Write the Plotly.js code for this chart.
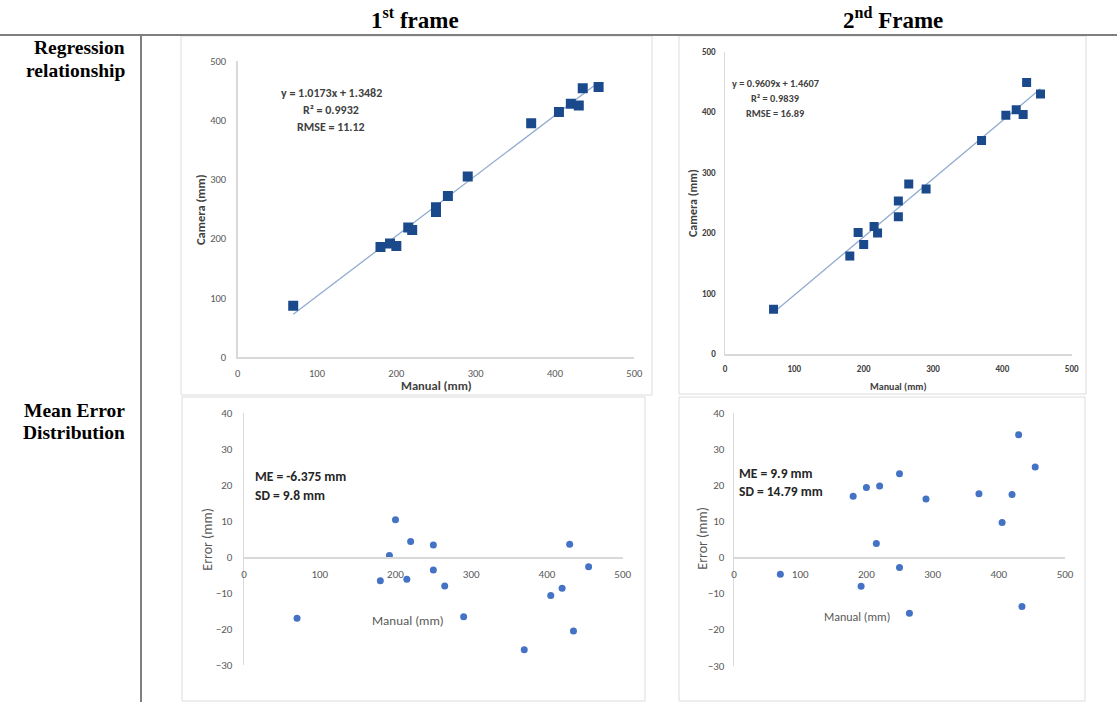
<!DOCTYPE html>
<html>
<head>
<meta charset="utf-8">
<script src="https://cdn.plot.ly/plotly-3.0.1.min.js"></script>
<style>html,body{margin:0;padding:0;background:#fff;}#chart{width:1117px;height:702px;}</style>
</head>
<body>
<div id="chart"></div>
<script>
// ---- data ----
const manual  = [70, 180, 192, 200, 215, 220, 250, 250, 265, 290, 370, 405, 420, 430, 435, 455];
const camera1 = [87, 186, 192, 188, 219, 215, 253, 245, 272, 305, 395, 414, 428, 425, 454, 456];
const camera2 = [74, 162, 201, 181, 211, 200, 253, 227, 281, 273, 353, 395, 404, 396, 449, 430];
const error1  = [-16.9, -6.5, 0.5, 10.4, -6.1, 4.4, 3.4, -3.5, -8, -16.5, -25.7, -10.6, -8.6, 3.6, -20.5, -2.6];
const error2  = [-4.7, 16.9, -8, 19.3, 3.8, 19.7, 23.1, -2.8, -15.5, 16.1, 17.6, 9.6, 17.4, 33.9, -13.6, 25];
const fit1 = {slope: 1.0173, intercept: 1.3482, r2: "0.9932", rmse: "11.12"};
const fit2 = {slope: 0.9609, intercept: 1.4607, r2: "0.9839", rmse: "16.89"};
const stats1 = {me: "-6.375", sd: "9.8"};
const stats2 = {me: "9.9", sd: "14.79"};
const headers = ["1<sup>st</sup> frame", "2<sup>nd</sup> Frame"];
const rowLabels = [["Regression", "relationship"], ["Mean Error", "Distribution"]];

// ---- helpers ----
const W = 1117, H = 702;
const px = x => x / W;
const py = y => 1 - y / H;
const CAL = "Carlito, Calibri, Lato, sans-serif";
const SERIF = "Liberation Serif, Times New Roman, serif";

function ann(text, x, y, font, extra) {
  return Object.assign({xref: 'paper', yref: 'paper', x: px(x), y: py(y), text: text,
    showarrow: false, xanchor: 'center', yanchor: 'middle', font: font}, extra || {});
}
function rect(x0, y0, x1, y1, color, width) {
  return {type: 'rect', xref: 'paper', yref: 'paper', x0: px(x0), x1: px(x1), y0: py(y1), y1: py(y0),
    line: {color: color, width: width}, fillcolor: 'rgba(0,0,0,0)', layer: 'below'};
}
function line(x0, y0, x1, y1, color, width) {
  return {type: 'line', xref: 'paper', yref: 'paper', x0: px(x0), x1: px(x1), y0: py(y0), y1: py(y1),
    line: {color: color, width: width}};
}
const xmin = Math.min(...manual), xmax = Math.max(...manual);
function trend(f) { return [f.slope * xmin + f.intercept, f.slope * xmax + f.intercept]; }

const SQ = '#1b4a8c', DOT = '#4472c4', TR = '#91acd0';
const traces = [
  {x: [xmin, xmax], y: trend(fit1), mode: 'lines', line: {color: TR, width: 1.3}, xaxis: 'x', yaxis: 'y', hoverinfo: 'skip'},
  {x: manual, y: camera1, mode: 'markers', marker: {symbol: 'square', size: 10, color: SQ}, xaxis: 'x', yaxis: 'y'},
  {x: [xmin, xmax], y: trend(fit2), mode: 'lines', line: {color: TR, width: 1.3}, xaxis: 'x2', yaxis: 'y2', hoverinfo: 'skip'},
  {x: manual, y: camera2, mode: 'markers', marker: {symbol: 'square', size: 9, color: SQ}, xaxis: 'x2', yaxis: 'y2'},
  {x: manual, y: error1, mode: 'markers', marker: {symbol: 'circle', size: 7, color: DOT}, xaxis: 'x3', yaxis: 'y3'},
  {x: manual, y: error2, mode: 'markers', marker: {symbol: 'circle', size: 7, color: DOT}, xaxis: 'x4', yaxis: 'y4'}
];

function ax(domain, range, dtick, font, extra) {
  return Object.assign({domain: domain, range: range, dtick: dtick, tick0: 0, showgrid: false, zeroline: false,
    showline: true, linecolor: '#d9d9d9', linewidth: 1.5, ticks: '', tickfont: font, fixedrange: true}, extra || {});
}
const tf1 = {family: CAL, size: 10.5, color: '#595959'};
const tf2 = {family: CAL, size: 9, color: '#404040', weight: 'bold'};
const tf3 = {family: CAL, size: 11, color: '#595959'};

const HB = {family: SERIF, size: 23, color: '#000', weight: 'bold'};
const RB = {family: SERIF, size: 19.5, color: '#000', weight: 'bold'};
const B1 = {family: CAL, size: 12, color: '#404040', weight: 'bold'};
const B1t = {family: CAL, size: 12.5, color: '#404040', weight: 'bold'};
const B2 = {family: CAL, size: 10.3, color: '#404040', weight: 'bold'};
const ME = {family: CAL, size: 13.5, color: '#262626', weight: 600};
const T3 = {family: CAL, size: 13, color: '#595959'};
const T3e = {family: CAL, size: 14, color: '#595959'};

const layout = {
  width: W, height: H, margin: {l: 0, r: 0, t: 0, b: 0},
  paper_bgcolor: '#fff', plot_bgcolor: 'rgba(0,0,0,0)', showlegend: false,
  xaxis:  ax([px(237.7), px(634.3)], [0, 500], 100, tf1, {anchor: 'y', ticklabelstandoff: 6}),
  yaxis:  ax([py(357.3), py(61)], [0, 500], 100, tf1, {anchor: 'x', ticklabelstandoff: 8}),
  xaxis2: ax([px(725), px(1071.7)], [0, 500], 100, tf2, {anchor: 'y2', ticklabelstandoff: 6}),
  yaxis2: ax([py(354), py(51.7)], [0, 500], 100, tf2, {anchor: 'x2', ticklabelstandoff: 6}),
  xaxis3: ax([px(244), px(622.7)], [0, 500], 100, tf3, {anchor: 'free', position: py(557.3), ticklabelstandoff: 6}),
  yaxis3: ax([py(665.3), py(413.3)], [-30, 40], 10, tf3, {anchor: 'x3', ticklabelstandoff: 8}),
  xaxis4: ax([px(734), px(1065)], [0, 500], 100, tf3, {anchor: 'free', position: py(557.3), ticklabelstandoff: 6}),
  yaxis4: ax([py(665.75), py(412.7)], [-30, 40], 10, tf3, {anchor: 'x4', ticklabelstandoff: 6}),
  shapes: [
    line(0, 35, W, 35, '#7f7f7f', 2),
    line(141, 35, 141, H, '#7f7f7f', 2),
    rect(181, 36, 652, 395, '#dcdcdc', 1),
    rect(679, 36, 1086, 394, '#dcdcdc', 1),
    rect(182, 397, 645, 701, '#dcdcdc', 1),
    rect(679, 397, 1085, 701, '#dcdcdc', 1)
  ],
  annotations: [
    ann(headers[0], 415, 18, HB),
    ann(headers[1], 893, 18, HB),
    ann(rowLabels[0][0], 127, 48, RB, {xanchor: 'right'}),
    ann(rowLabels[0][1], 127, 70, RB, {xanchor: 'right'}),
    ann(rowLabels[1][0], 127, 410, RB, {xanchor: 'right'}),
    ann(rowLabels[1][1], 127, 432, RB, {xanchor: 'right'}),
    // panel 1
    ann('y = ' + fit1.slope + 'x + ' + fit1.intercept, 331, 93, B1),
    ann('R² = ' + fit1.r2, 331, 110, B1),
    ann('RMSE = ' + fit1.rmse, 331, 127, B1),
    ann('Camera (mm)', 200, 210, B1t, {textangle: -90}),
    ann('Manual (mm)', 436, 385, B1t),
    // panel 2
    ann('y = ' + fit2.slope + 'x + ' + fit2.intercept, 775, 83.3, B2),
    ann('R² = ' + fit2.r2, 775, 98.3, B2),
    ann('RMSE = ' + fit2.rmse, 775, 113.3, B2),
    ann('Camera (mm)', 693, 203, {family: CAL, size: 12, color: '#404040', weight: 'bold'}, {textangle: -90}),
    ann('Manual (mm)', 898, 386, {family: CAL, size: 10, color: '#404040', weight: 'bold'}),
    // panel 3
    ann('ME = ' + stats1.me + ' mm', 252.7, 476.7, ME, {xanchor: 'left'}),
    ann('SD = ' + stats1.sd + ' mm', 252.7, 495, ME, {xanchor: 'left'}),
    ann('Error (mm)', 206.7, 539, T3e, {textangle: -90}),
    ann('Manual (mm)', 407.7, 620.7, T3),
    // panel 4
    ann('ME = ' + stats2.me + ' mm', 736.7, 473.3, ME, {xanchor: 'left'}),
    ann('SD = ' + stats2.sd + ' mm', 736.7, 491.7, ME, {xanchor: 'left'}),
    ann('Error (mm)', 701.7, 538, T3e, {textangle: -90}),
    ann('Manual (mm)', 857, 617.3, {family: CAL, size: 12, color: '#595959'})
  ]
};
Plotly.newPlot('chart', traces, layout, {displayModeBar: false, staticPlot: true});
</script>
</body>
</html>
